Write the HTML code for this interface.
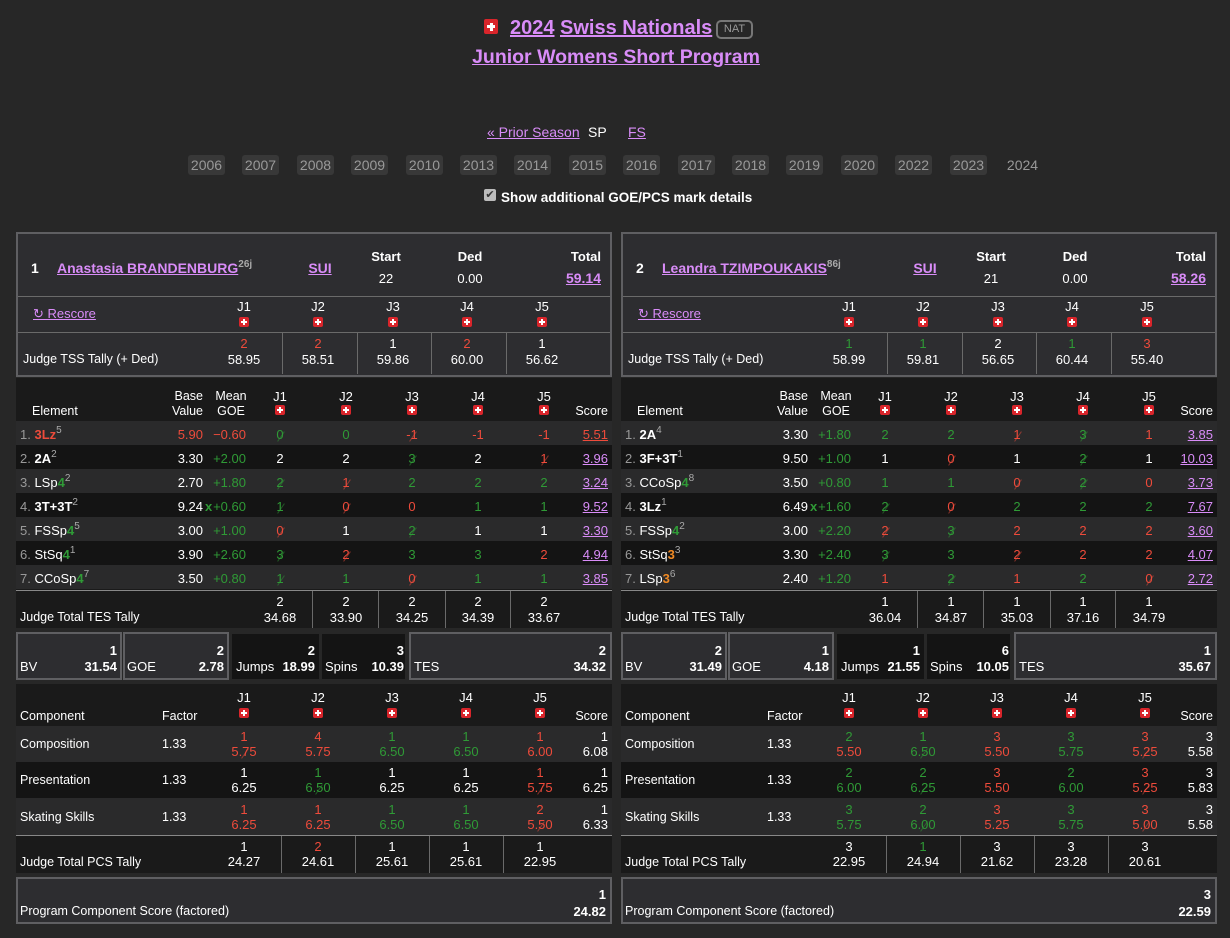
<!DOCTYPE html>
<html><head><meta charset="utf-8"><style>
body{margin:0;background:#272727;width:1230px;height:938px;overflow:hidden;font-family:"Liberation Sans",Arial,sans-serif;color:#fff;font-size:13px;position:relative}
.a{position:absolute;white-space:nowrap;line-height:15px}
.c{width:80px;margin-left:-40px;text-align:center}
.r{width:120px;margin-left:-120px;text-align:right}
.p{color:#d98cf8;text-decoration:underline}
.red{color:#ee4b3b}.grn{color:#2f9a36}.gry{color:#999}.org{color:#f08a24}
.b{font-weight:bold}
.fl{position:absolute;width:10px;height:10px;background:#d9252b;border-radius:2px}
.fl::before{content:'';position:absolute;left:2px;top:4px;width:6px;height:2px;background:#fff}
.fl::after{content:'';position:absolute;left:4px;top:2px;width:2px;height:6px;background:#fff}
.fl.big{width:14px;height:15px}
.fl.big::before{left:3px;top:6px;width:8px;height:3px}
.fl.big::after{left:5.5px;top:3.5px;width:3px;height:8px}
.box{position:absolute;border:2px solid #5f5f62;background:#2d2d30;box-sizing:border-box}
.dk{position:absolute;background:#141414}
.panel{position:absolute;top:0;width:596px;height:938px}
.row{position:absolute;left:0;width:596px}
.o{background:#2a2a2b}.e{background:#141414}
.hl{position:absolute;height:1px;background:#6a6a6a}
.vl{position:absolute;width:1px;background:#6a6a6a}
.s{position:relative;display:inline-block}
.s::after{content:'';position:absolute;left:50%;top:50%;width:12px;margin-left:-5px;margin-top:1px;height:1px;background:currentColor;transform:rotate(-55deg);opacity:.5}
sup{font-size:10px;color:#aaa;vertical-align:6px;line-height:0}
.yr{position:absolute;top:155px;height:20px;width:37px;background:#383838;border-radius:3px;color:#999;font-size:14px;text-align:center;line-height:20px}
</style></head><body>

<!-- header -->
<div class="fl big" style="left:484px;top:19px"></div>
<div class="a b p" style="left:510px;top:16px;font-size:20px;line-height:24px">2024</div>
<div class="a b p" style="left:560px;top:16px;font-size:20px;line-height:24px">Swiss Nationals</div>
<div class="a" style="left:716px;top:20px;width:33px;height:15px;border:2px solid #777;border-radius:5px;color:#999;font-size:11px;text-align:center;line-height:15px">NAT</div>
<div class="a b p c" style="left:616px;width:400px;margin-left:-200px;top:45px;font-size:19.5px;line-height:24px">Junior Womens Short Program</div>
<div class="a p" style="left:487px;top:125px;font-size:14px">« Prior Season</div>
<div class="a" style="left:588px;top:125px;font-size:14px">SP</div>
<div class="a p" style="left:628px;top:125px;font-size:14px">FS</div>
<div class="yr" style="left:188px">2006</div><div class="yr" style="left:242px">2007</div><div class="yr" style="left:297px">2008</div><div class="yr" style="left:351px">2009</div><div class="yr" style="left:406px">2010</div><div class="yr" style="left:460px">2013</div><div class="yr" style="left:514px">2014</div><div class="yr" style="left:569px">2015</div><div class="yr" style="left:623px">2016</div><div class="yr" style="left:678px">2017</div><div class="yr" style="left:732px">2018</div><div class="yr" style="left:786px">2019</div><div class="yr" style="left:841px">2020</div><div class="yr" style="left:895px">2022</div><div class="yr" style="left:950px">2023</div><div class="yr" style="left:1004px;background:none">2024</div>
<div class="a" style="left:484px;top:189px;width:12px;height:12px;background:#bbb;border-radius:2px;color:#333;font-size:11px;line-height:12px;text-align:center">✔</div>
<div class="a b" style="left:501px;top:190px;font-size:13.5px">Show additional GOE/PCS mark details</div>

<!-- LEFT PANEL -->
<div class="panel" style="left:16px">
<div class="box" style="left:0;top:232px;width:596px;height:145px"></div>
<div class="hl" style="left:2px;top:296px;width:592px"></div><div class="hl" style="left:2px;top:332px;width:592px"></div>
<div class="a b" style="left:15px;top:261px;font-size:14px">1</div>
<div class="a b" style="left:41px;top:261px;font-size:14px"><span class="p">Anastasia BRANDENBURG</span><sup>26j</sup></div>
<div class="a b p c" style="left:304px;top:261px;font-size:14px">SUI</div>
<div class="a b c" style="left:370px;top:249px">Start</div><div class="a c" style="left:370px;top:271px">22</div>
<div class="a b c" style="left:454px;top:249px">Ded</div><div class="a c" style="left:454px;top:271px">0.00</div>
<div class="a b r" style="left:585px;top:249px">Total</div><div class="a b p r" style="left:585px;top:271px;font-size:14px">59.14</div>
<div class="a p" style="left:17px;top:306px">↻ Rescore</div>
<div class="a c" style="left:228px;top:299px">J1</div><div class="fl" style="left:223px;top:317px"></div>
<div class="a c" style="left:302px;top:299px">J2</div><div class="fl" style="left:297px;top:317px"></div>
<div class="a c" style="left:377px;top:299px">J3</div><div class="fl" style="left:372px;top:317px"></div>
<div class="a c" style="left:451px;top:299px">J4</div><div class="fl" style="left:446px;top:317px"></div>
<div class="a c" style="left:526px;top:299px">J5</div><div class="fl" style="left:521px;top:317px"></div>
<div class="vl" style="left:266px;top:333px;height:41px"></div><div class="vl" style="left:341px;top:333px;height:41px"></div><div class="vl" style="left:415px;top:333px;height:41px"></div><div class="vl" style="left:490px;top:333px;height:41px"></div>
<div class="a" style="left:7px;top:352px;font-size:12.5px">Judge TSS Tally (+ Ded)</div>
<div class="a c red" style="left:228px;top:336px">2</div><div class="a c" style="left:228px;top:352px">58.95</div>
<div class="a c red" style="left:302px;top:336px">2</div><div class="a c" style="left:302px;top:352px">58.51</div>
<div class="a c" style="left:377px;top:336px">1</div><div class="a c" style="left:377px;top:352px">59.86</div>
<div class="a c red" style="left:451px;top:336px">2</div><div class="a c" style="left:451px;top:352px">60.00</div>
<div class="a c" style="left:526px;top:336px">1</div><div class="a c" style="left:526px;top:352px">56.62</div>

<div class="dk" style="left:0;top:378px;width:596px;height:250px;background:#1a1a1a"></div>
<div class="a" style="left:16px;top:404px;font-size:12.5px">Element</div>
<div class="a r" style="left:187px;top:389px;font-size:12.5px">Base</div><div class="a r" style="left:187px;top:404px;font-size:12.5px">Value</div>
<div class="a c" style="left:215px;top:389px;font-size:12.5px">Mean</div><div class="a c" style="left:215px;top:404px;font-size:12.5px">GOE</div>
<div class="a c" style="left:264px;top:389px">J1</div><div class="fl" style="left:259px;top:405px"></div>
<div class="a c" style="left:330px;top:389px">J2</div><div class="fl" style="left:325px;top:405px"></div>
<div class="a c" style="left:396px;top:389px">J3</div><div class="fl" style="left:391px;top:405px"></div>
<div class="a c" style="left:462px;top:389px">J4</div><div class="fl" style="left:457px;top:405px"></div>
<div class="a c" style="left:528px;top:389px">J5</div><div class="fl" style="left:523px;top:405px"></div>
<div class="a r" style="left:592px;top:404px;font-size:12.5px">Score</div>

<div class="row o" style="top:421px;height:24px"></div><div class="row e" style="top:445px;height:24px"></div><div class="row o" style="top:469px;height:24px"></div><div class="row e" style="top:493px;height:24px"></div><div class="row o" style="top:517px;height:24px"></div><div class="row e" style="top:541px;height:24px"></div><div class="row o" style="top:565px;height:24px"></div>

<div class="a" style="left:4px;top:427px"><span class="gry">1.</span> <b class="red">3Lz</b><sup>5</sup></div><div class="a r red" style="left:187px;top:427px">5.90</div><div class="a r red" style="left:230px;top:427px">−0.60</div>
<div class="a c grn" style="left:264px;top:427px"><span class="s">0</span></div><div class="a c grn" style="left:330px;top:427px">0</div><div class="a c red" style="left:396px;top:427px"><span class="s">-1</span></div><div class="a c red" style="left:462px;top:427px">-1</div><div class="a c red" style="left:528px;top:427px">-1</div><div class="a r" style="left:592px;top:427px;color:#ee4b3b;text-decoration:underline">5.51</div>

<div class="a" style="left:4px;top:451px"><span class="gry">2.</span> <b>2A</b><sup>2</sup></div><div class="a r" style="left:187px;top:451px">3.30</div><div class="a r grn" style="left:230px;top:451px">+2.00</div>
<div class="a c" style="left:264px;top:451px">2</div><div class="a c" style="left:330px;top:451px">2</div><div class="a c grn" style="left:396px;top:451px"><span class="s">3</span></div><div class="a c" style="left:462px;top:451px">2</div><div class="a c red" style="left:528px;top:451px"><span class="s">1</span></div><div class="a r p" style="left:592px;top:451px">3.96</div>

<div class="a" style="left:4px;top:475px"><span class="gry">3.</span> LSp<b class="grn">4</b><sup>2</sup></div><div class="a r" style="left:187px;top:475px">2.70</div><div class="a r grn" style="left:230px;top:475px">+1.80</div>
<div class="a c grn" style="left:264px;top:475px"><span class="s">2</span></div><div class="a c red" style="left:330px;top:475px"><span class="s">1</span></div><div class="a c grn" style="left:396px;top:475px">2</div><div class="a c grn" style="left:462px;top:475px">2</div><div class="a c grn" style="left:528px;top:475px">2</div><div class="a r p" style="left:592px;top:475px">3.24</div>

<div class="a" style="left:4px;top:499px"><span class="gry">4.</span> <b>3T+3T</b><sup>2</sup></div><div class="a r" style="left:187px;top:499px">9.24</div><div class="a b grn" style="left:189px;top:499px">x</div><div class="a r grn" style="left:230px;top:499px">+0.60</div>
<div class="a c grn" style="left:264px;top:499px"><span class="s">1</span></div><div class="a c red" style="left:330px;top:499px"><span class="s">0</span></div><div class="a c red" style="left:396px;top:499px">0</div><div class="a c grn" style="left:462px;top:499px">1</div><div class="a c grn" style="left:528px;top:499px">1</div><div class="a r p" style="left:592px;top:499px">9.52</div>

<div class="a" style="left:4px;top:523px"><span class="gry">5.</span> FSSp<b class="grn">4</b><sup>5</sup></div><div class="a r" style="left:187px;top:523px">3.00</div><div class="a r grn" style="left:230px;top:523px">+1.00</div>
<div class="a c red" style="left:264px;top:523px"><span class="s">0</span></div><div class="a c" style="left:330px;top:523px">1</div><div class="a c grn" style="left:396px;top:523px"><span class="s">2</span></div><div class="a c" style="left:462px;top:523px">1</div><div class="a c" style="left:528px;top:523px">1</div><div class="a r p" style="left:592px;top:523px">3.30</div>

<div class="a" style="left:4px;top:547px"><span class="gry">6.</span> StSq<b class="grn">4</b><sup>1</sup></div><div class="a r" style="left:187px;top:547px">3.90</div><div class="a r grn" style="left:230px;top:547px">+2.60</div>
<div class="a c grn" style="left:264px;top:547px"><span class="s">3</span></div><div class="a c red" style="left:330px;top:547px"><span class="s">2</span></div><div class="a c grn" style="left:396px;top:547px">3</div><div class="a c grn" style="left:462px;top:547px">3</div><div class="a c red" style="left:528px;top:547px">2</div><div class="a r p" style="left:592px;top:547px">4.94</div>

<div class="a" style="left:4px;top:571px"><span class="gry">7.</span> CCoSp<b class="grn">4</b><sup>7</sup></div><div class="a r" style="left:187px;top:571px">3.50</div><div class="a r grn" style="left:230px;top:571px">+0.80</div>
<div class="a c grn" style="left:264px;top:571px"><span class="s">1</span></div><div class="a c grn" style="left:330px;top:571px">1</div><div class="a c red" style="left:396px;top:571px"><span class="s">0</span></div><div class="a c grn" style="left:462px;top:571px">1</div><div class="a c grn" style="left:528px;top:571px">1</div><div class="a r p" style="left:592px;top:571px">3.85</div>

<div class="hl" style="left:0;top:590px;width:596px;background:#888"></div>
<div class="vl" style="left:296px;top:591px;height:37px"></div><div class="vl" style="left:362px;top:591px;height:37px"></div><div class="vl" style="left:429px;top:591px;height:37px"></div><div class="vl" style="left:494px;top:591px;height:37px"></div>
<div class="a" style="left:4px;top:610px;font-size:12.5px">Judge Total TES Tally</div>
<div class="a c" style="left:264px;top:594px">2</div><div class="a c" style="left:264px;top:610px">34.68</div>
<div class="a c" style="left:330px;top:594px">2</div><div class="a c" style="left:330px;top:610px">33.90</div>
<div class="a c" style="left:396px;top:594px">2</div><div class="a c" style="left:396px;top:610px">34.25</div>
<div class="a c" style="left:462px;top:594px">2</div><div class="a c" style="left:462px;top:610px">34.39</div>
<div class="a c" style="left:528px;top:594px">2</div><div class="a c" style="left:528px;top:610px">33.67</div>

<div class="box" style="left:0;top:632px;width:106px;height:48px"></div>
<div class="box" style="left:107px;top:632px;width:106px;height:48px"></div>
<div class="dk" style="left:216px;top:634px;width:87px;height:45px"></div>
<div class="dk" style="left:306px;top:634px;width:83px;height:45px"></div>
<div class="box" style="left:393px;top:632px;width:203px;height:48px"></div>
<div class="a b r" style="left:101px;top:643px">1</div><div class="a" style="left:4px;top:659px">BV</div><div class="a b r" style="left:101px;top:659px">31.54</div>
<div class="a b r" style="left:208px;top:643px">2</div><div class="a" style="left:111px;top:659px">GOE</div><div class="a b r" style="left:208px;top:659px">2.78</div>
<div class="a b r" style="left:299px;top:643px">2</div><div class="a" style="left:220px;top:659px">Jumps</div><div class="a b r" style="left:299px;top:659px">18.99</div>
<div class="a b r" style="left:388px;top:643px">3</div><div class="a" style="left:309px;top:659px">Spins</div><div class="a b r" style="left:388px;top:659px">10.39</div>
<div class="a b r" style="left:590px;top:643px">2</div><div class="a" style="left:398px;top:659px">TES</div><div class="a b r" style="left:590px;top:659px">34.32</div>

<div class="dk" style="left:0;top:684px;width:596px;height:189px;background:#1a1a1a"></div>
<div class="a" style="left:4px;top:709px;font-size:12.5px">Component</div><div class="a" style="left:146px;top:709px;font-size:12.5px">Factor</div>
<div class="a c" style="left:228px;top:690px">J1</div><div class="fl" style="left:223px;top:708px"></div>
<div class="a c" style="left:302px;top:690px">J2</div><div class="fl" style="left:297px;top:708px"></div>
<div class="a c" style="left:376px;top:690px">J3</div><div class="fl" style="left:371px;top:708px"></div>
<div class="a c" style="left:450px;top:690px">J4</div><div class="fl" style="left:445px;top:708px"></div>
<div class="a c" style="left:524px;top:690px">J5</div><div class="fl" style="left:519px;top:708px"></div>
<div class="a r" style="left:592px;top:709px;font-size:12.5px">Score</div>
<div class="row o" style="top:726px;height:36px"></div><div class="row e" style="top:762px;height:36px"></div><div class="row o" style="top:798px;height:37px"></div>

<div class="a" style="left:4px;top:737px;font-size:12.5px">Composition</div><div class="a" style="left:146px;top:737px;font-size:12.5px">1.33</div>
<div class="a c red" style="left:228px;top:729px">1<br><span class="s">5.75</span></div><div class="a c red" style="left:302px;top:729px">4<br>5.75</div><div class="a c grn" style="left:376px;top:729px">1<br>6.50</div><div class="a c grn" style="left:450px;top:729px">1<br>6.50</div><div class="a c red" style="left:524px;top:729px">1<br>6.00</div><div class="a r" style="left:592px;top:729px">1<br>6.08</div>
<div class="a" style="left:4px;top:773px;font-size:12.5px">Presentation</div><div class="a" style="left:146px;top:773px;font-size:12.5px">1.33</div>
<div class="a c" style="left:228px;top:765px">1<br>6.25</div><div class="a c grn" style="left:302px;top:765px">1<br><span class="s">6.50</span></div><div class="a c" style="left:376px;top:765px">1<br>6.25</div><div class="a c" style="left:450px;top:765px">1<br>6.25</div><div class="a c red" style="left:524px;top:765px">1<br><span class="s">5.75</span></div><div class="a r" style="left:592px;top:765px">1<br>6.25</div>
<div class="a" style="left:4px;top:810px;font-size:12.5px">Skating Skills</div><div class="a" style="left:146px;top:810px;font-size:12.5px">1.33</div>
<div class="a c red" style="left:228px;top:802px">1<br>6.25</div><div class="a c red" style="left:302px;top:802px">1<br>6.25</div><div class="a c grn" style="left:376px;top:802px">1<br>6.50</div><div class="a c grn" style="left:450px;top:802px">1<br>6.50</div><div class="a c red" style="left:524px;top:802px">2<br><span class="s">5.50</span></div><div class="a r" style="left:592px;top:802px">1<br>6.33</div>
<div class="hl" style="left:0;top:835px;width:596px;background:#888"></div>
<div class="vl" style="left:265px;top:836px;height:37px"></div><div class="vl" style="left:339px;top:836px;height:37px"></div><div class="vl" style="left:413px;top:836px;height:37px"></div><div class="vl" style="left:487px;top:836px;height:37px"></div>
<div class="a" style="left:4px;top:855px;font-size:12.5px">Judge Total PCS Tally</div>
<div class="a c" style="left:228px;top:839px">1<br>24.27</div><div class="a c" style="left:302px;top:839px"><span class="red">2</span><br>24.61</div><div class="a c" style="left:376px;top:839px">1<br>25.61</div><div class="a c" style="left:450px;top:839px">1<br>25.61</div><div class="a c" style="left:524px;top:839px">1<br>22.95</div>

<div class="box" style="left:0;top:877px;width:596px;height:47px"></div>
<div class="a" style="left:4px;top:904px;font-size:12.5px">Program Component Score (factored)</div>
<div class="a b r" style="left:590px;top:887px">1</div><div class="a b r" style="left:590px;top:904px">24.82</div>
</div>

<!-- RIGHT PANEL -->
<div class="panel" style="left:621px">
<div class="box" style="left:0;top:232px;width:596px;height:145px"></div>
<div class="hl" style="left:2px;top:296px;width:592px"></div><div class="hl" style="left:2px;top:332px;width:592px"></div>
<div class="a b" style="left:15px;top:261px;font-size:14px">2</div>
<div class="a b" style="left:41px;top:261px;font-size:14px"><span class="p">Leandra TZIMPOUKAKIS</span><sup>86j</sup></div>
<div class="a b p c" style="left:304px;top:261px;font-size:14px">SUI</div>
<div class="a b c" style="left:370px;top:249px">Start</div><div class="a c" style="left:370px;top:271px">21</div>
<div class="a b c" style="left:454px;top:249px">Ded</div><div class="a c" style="left:454px;top:271px">0.00</div>
<div class="a b r" style="left:585px;top:249px">Total</div><div class="a b p r" style="left:585px;top:271px;font-size:14px">58.26</div>
<div class="a p" style="left:17px;top:306px">↻ Rescore</div>
<div class="a c" style="left:228px;top:299px">J1</div><div class="fl" style="left:223px;top:317px"></div>
<div class="a c" style="left:302px;top:299px">J2</div><div class="fl" style="left:297px;top:317px"></div>
<div class="a c" style="left:377px;top:299px">J3</div><div class="fl" style="left:372px;top:317px"></div>
<div class="a c" style="left:451px;top:299px">J4</div><div class="fl" style="left:446px;top:317px"></div>
<div class="a c" style="left:526px;top:299px">J5</div><div class="fl" style="left:521px;top:317px"></div>
<div class="vl" style="left:266px;top:333px;height:41px"></div><div class="vl" style="left:341px;top:333px;height:41px"></div><div class="vl" style="left:415px;top:333px;height:41px"></div><div class="vl" style="left:490px;top:333px;height:41px"></div>
<div class="a" style="left:7px;top:352px;font-size:12.5px">Judge TSS Tally (+ Ded)</div>
<div class="a c grn" style="left:228px;top:336px">1</div><div class="a c" style="left:228px;top:352px">58.99</div>
<div class="a c grn" style="left:302px;top:336px">1</div><div class="a c" style="left:302px;top:352px">59.81</div>
<div class="a c" style="left:377px;top:336px">2</div><div class="a c" style="left:377px;top:352px">56.65</div>
<div class="a c grn" style="left:451px;top:336px">1</div><div class="a c" style="left:451px;top:352px">60.44</div>
<div class="a c red" style="left:526px;top:336px">3</div><div class="a c" style="left:526px;top:352px">55.40</div>

<div class="dk" style="left:0;top:378px;width:596px;height:250px;background:#1a1a1a"></div>
<div class="a" style="left:16px;top:404px;font-size:12.5px">Element</div>
<div class="a r" style="left:187px;top:389px;font-size:12.5px">Base</div><div class="a r" style="left:187px;top:404px;font-size:12.5px">Value</div>
<div class="a c" style="left:215px;top:389px;font-size:12.5px">Mean</div><div class="a c" style="left:215px;top:404px;font-size:12.5px">GOE</div>
<div class="a c" style="left:264px;top:389px">J1</div><div class="fl" style="left:259px;top:405px"></div>
<div class="a c" style="left:330px;top:389px">J2</div><div class="fl" style="left:325px;top:405px"></div>
<div class="a c" style="left:396px;top:389px">J3</div><div class="fl" style="left:391px;top:405px"></div>
<div class="a c" style="left:462px;top:389px">J4</div><div class="fl" style="left:457px;top:405px"></div>
<div class="a c" style="left:528px;top:389px">J5</div><div class="fl" style="left:523px;top:405px"></div>
<div class="a r" style="left:592px;top:404px;font-size:12.5px">Score</div>

<div class="row o" style="top:421px;height:24px"></div><div class="row e" style="top:445px;height:24px"></div><div class="row o" style="top:469px;height:24px"></div><div class="row e" style="top:493px;height:24px"></div><div class="row o" style="top:517px;height:24px"></div><div class="row e" style="top:541px;height:24px"></div><div class="row o" style="top:565px;height:24px"></div>

<div class="a" style="left:4px;top:427px"><span class="gry">1.</span> <b>2A</b><sup>4</sup></div><div class="a r" style="left:187px;top:427px">3.30</div><div class="a r grn" style="left:230px;top:427px">+1.80</div>
<div class="a c grn" style="left:264px;top:427px">2</div><div class="a c grn" style="left:330px;top:427px">2</div><div class="a c red" style="left:396px;top:427px"><span class="s">1</span></div><div class="a c grn" style="left:462px;top:427px"><span class="s">3</span></div><div class="a c red" style="left:528px;top:427px">1</div><div class="a r p" style="left:592px;top:427px">3.85</div>

<div class="a" style="left:4px;top:451px"><span class="gry">2.</span> <b>3F+3T</b><sup>1</sup></div><div class="a r" style="left:187px;top:451px">9.50</div><div class="a r grn" style="left:230px;top:451px">+1.00</div>
<div class="a c" style="left:264px;top:451px">1</div><div class="a c red" style="left:330px;top:451px"><span class="s">0</span></div><div class="a c" style="left:396px;top:451px">1</div><div class="a c grn" style="left:462px;top:451px"><span class="s">2</span></div><div class="a c" style="left:528px;top:451px">1</div><div class="a r p" style="left:592px;top:451px">10.03</div>

<div class="a" style="left:4px;top:475px"><span class="gry">3.</span> CCoSp<b class="grn">4</b><sup>8</sup></div><div class="a r" style="left:187px;top:475px">3.50</div><div class="a r grn" style="left:230px;top:475px">+0.80</div>
<div class="a c grn" style="left:264px;top:475px">1</div><div class="a c grn" style="left:330px;top:475px">1</div><div class="a c red" style="left:396px;top:475px"><span class="s">0</span></div><div class="a c grn" style="left:462px;top:475px"><span class="s">2</span></div><div class="a c red" style="left:528px;top:475px">0</div><div class="a r p" style="left:592px;top:475px">3.73</div>

<div class="a" style="left:4px;top:499px"><span class="gry">4.</span> <b>3Lz</b><sup>1</sup></div><div class="a r" style="left:187px;top:499px">6.49</div><div class="a b grn" style="left:189px;top:499px">x</div><div class="a r grn" style="left:230px;top:499px">+1.60</div>
<div class="a c grn" style="left:264px;top:499px"><span class="s">2</span></div><div class="a c red" style="left:330px;top:499px"><span class="s">0</span></div><div class="a c grn" style="left:396px;top:499px">2</div><div class="a c grn" style="left:462px;top:499px">2</div><div class="a c grn" style="left:528px;top:499px">2</div><div class="a r p" style="left:592px;top:499px">7.67</div>

<div class="a" style="left:4px;top:523px"><span class="gry">5.</span> FSSp<b class="grn">4</b><sup>2</sup></div><div class="a r" style="left:187px;top:523px">3.00</div><div class="a r grn" style="left:230px;top:523px">+2.20</div>
<div class="a c red" style="left:264px;top:523px"><span class="s">2</span></div><div class="a c grn" style="left:330px;top:523px"><span class="s">3</span></div><div class="a c red" style="left:396px;top:523px">2</div><div class="a c red" style="left:462px;top:523px">2</div><div class="a c red" style="left:528px;top:523px">2</div><div class="a r p" style="left:592px;top:523px">3.60</div>

<div class="a" style="left:4px;top:547px"><span class="gry">6.</span> StSq<b class="org">3</b><sup>3</sup></div><div class="a r" style="left:187px;top:547px">3.30</div><div class="a r grn" style="left:230px;top:547px">+2.40</div>
<div class="a c grn" style="left:264px;top:547px"><span class="s">3</span></div><div class="a c grn" style="left:330px;top:547px">3</div><div class="a c red" style="left:396px;top:547px"><span class="s">2</span></div><div class="a c red" style="left:462px;top:547px">2</div><div class="a c red" style="left:528px;top:547px">2</div><div class="a r p" style="left:592px;top:547px">4.07</div>

<div class="a" style="left:4px;top:571px"><span class="gry">7.</span> LSp<b class="org">3</b><sup>6</sup></div><div class="a r" style="left:187px;top:571px">2.40</div><div class="a r grn" style="left:230px;top:571px">+1.20</div>
<div class="a c red" style="left:264px;top:571px">1</div><div class="a c grn" style="left:330px;top:571px"><span class="s">2</span></div><div class="a c red" style="left:396px;top:571px">1</div><div class="a c grn" style="left:462px;top:571px">2</div><div class="a c red" style="left:528px;top:571px"><span class="s">0</span></div><div class="a r p" style="left:592px;top:571px">2.72</div>

<div class="hl" style="left:0;top:590px;width:596px;background:#888"></div>
<div class="vl" style="left:296px;top:591px;height:37px"></div><div class="vl" style="left:362px;top:591px;height:37px"></div><div class="vl" style="left:429px;top:591px;height:37px"></div><div class="vl" style="left:494px;top:591px;height:37px"></div>
<div class="a" style="left:4px;top:610px;font-size:12.5px">Judge Total TES Tally</div>
<div class="a c" style="left:264px;top:594px">1</div><div class="a c" style="left:264px;top:610px">36.04</div>
<div class="a c" style="left:330px;top:594px">1</div><div class="a c" style="left:330px;top:610px">34.87</div>
<div class="a c" style="left:396px;top:594px">1</div><div class="a c" style="left:396px;top:610px">35.03</div>
<div class="a c" style="left:462px;top:594px">1</div><div class="a c" style="left:462px;top:610px">37.16</div>
<div class="a c" style="left:528px;top:594px">1</div><div class="a c" style="left:528px;top:610px">34.79</div>

<div class="box" style="left:0;top:632px;width:106px;height:48px"></div>
<div class="box" style="left:107px;top:632px;width:106px;height:48px"></div>
<div class="dk" style="left:216px;top:634px;width:87px;height:45px"></div>
<div class="dk" style="left:306px;top:634px;width:83px;height:45px"></div>
<div class="box" style="left:393px;top:632px;width:203px;height:48px"></div>
<div class="a b r" style="left:101px;top:643px">2</div><div class="a" style="left:4px;top:659px">BV</div><div class="a b r" style="left:101px;top:659px">31.49</div>
<div class="a b r" style="left:208px;top:643px">1</div><div class="a" style="left:111px;top:659px">GOE</div><div class="a b r" style="left:208px;top:659px">4.18</div>
<div class="a b r" style="left:299px;top:643px">1</div><div class="a" style="left:220px;top:659px">Jumps</div><div class="a b r" style="left:299px;top:659px">21.55</div>
<div class="a b r" style="left:388px;top:643px">6</div><div class="a" style="left:309px;top:659px">Spins</div><div class="a b r" style="left:388px;top:659px">10.05</div>
<div class="a b r" style="left:590px;top:643px">1</div><div class="a" style="left:398px;top:659px">TES</div><div class="a b r" style="left:590px;top:659px">35.67</div>

<div class="dk" style="left:0;top:684px;width:596px;height:189px;background:#1a1a1a"></div>
<div class="a" style="left:4px;top:709px;font-size:12.5px">Component</div><div class="a" style="left:146px;top:709px;font-size:12.5px">Factor</div>
<div class="a c" style="left:228px;top:690px">J1</div><div class="fl" style="left:223px;top:708px"></div>
<div class="a c" style="left:302px;top:690px">J2</div><div class="fl" style="left:297px;top:708px"></div>
<div class="a c" style="left:376px;top:690px">J3</div><div class="fl" style="left:371px;top:708px"></div>
<div class="a c" style="left:450px;top:690px">J4</div><div class="fl" style="left:445px;top:708px"></div>
<div class="a c" style="left:524px;top:690px">J5</div><div class="fl" style="left:519px;top:708px"></div>
<div class="a r" style="left:592px;top:709px;font-size:12.5px">Score</div>
<div class="row o" style="top:726px;height:36px"></div><div class="row e" style="top:762px;height:36px"></div><div class="row o" style="top:798px;height:37px"></div>

<div class="a" style="left:4px;top:737px;font-size:12.5px">Composition</div><div class="a" style="left:146px;top:737px;font-size:12.5px">1.33</div>
<div class="a c" style="left:228px;top:729px"><span class="grn">2</span><br><span class="red">5.50</span></div><div class="a c grn" style="left:302px;top:729px">1<br><span class="s">6.50</span></div><div class="a c red" style="left:376px;top:729px">3<br>5.50</div><div class="a c grn" style="left:450px;top:729px">3<br>5.75</div><div class="a c red" style="left:524px;top:729px">3<br><span class="s">5.25</span></div><div class="a r" style="left:592px;top:729px">3<br>5.58</div>
<div class="a" style="left:4px;top:773px;font-size:12.5px">Presentation</div><div class="a" style="left:146px;top:773px;font-size:12.5px">1.33</div>
<div class="a c grn" style="left:228px;top:765px">2<br>6.00</div><div class="a c grn" style="left:302px;top:765px">2<br><span class="s">6.25</span></div><div class="a c red" style="left:376px;top:765px">3<br>5.50</div><div class="a c grn" style="left:450px;top:765px">2<br>6.00</div><div class="a c red" style="left:524px;top:765px">3<br><span class="s">5.25</span></div><div class="a r" style="left:592px;top:765px">3<br>5.83</div>
<div class="a" style="left:4px;top:810px;font-size:12.5px">Skating Skills</div><div class="a" style="left:146px;top:810px;font-size:12.5px">1.33</div>
<div class="a c grn" style="left:228px;top:802px">3<br>5.75</div><div class="a c grn" style="left:302px;top:802px">2<br><span class="s">6.00</span></div><div class="a c red" style="left:376px;top:802px">3<br>5.25</div><div class="a c grn" style="left:450px;top:802px">3<br>5.75</div><div class="a c red" style="left:524px;top:802px">3<br><span class="s">5.00</span></div><div class="a r" style="left:592px;top:802px">3<br>5.58</div>
<div class="hl" style="left:0;top:835px;width:596px;background:#888"></div>
<div class="vl" style="left:265px;top:836px;height:37px"></div><div class="vl" style="left:339px;top:836px;height:37px"></div><div class="vl" style="left:413px;top:836px;height:37px"></div><div class="vl" style="left:487px;top:836px;height:37px"></div>
<div class="a" style="left:4px;top:855px;font-size:12.5px">Judge Total PCS Tally</div>
<div class="a c" style="left:228px;top:839px">3<br>22.95</div><div class="a c" style="left:302px;top:839px"><span class="grn">1</span><br>24.94</div><div class="a c" style="left:376px;top:839px">3<br>21.62</div><div class="a c" style="left:450px;top:839px">3<br>23.28</div><div class="a c" style="left:524px;top:839px">3<br>20.61</div>

<div class="box" style="left:0;top:877px;width:596px;height:47px"></div>
<div class="a" style="left:4px;top:904px;font-size:12.5px">Program Component Score (factored)</div>
<div class="a b r" style="left:590px;top:887px">3</div><div class="a b r" style="left:590px;top:904px">22.59</div>
</div>
</body></html>
